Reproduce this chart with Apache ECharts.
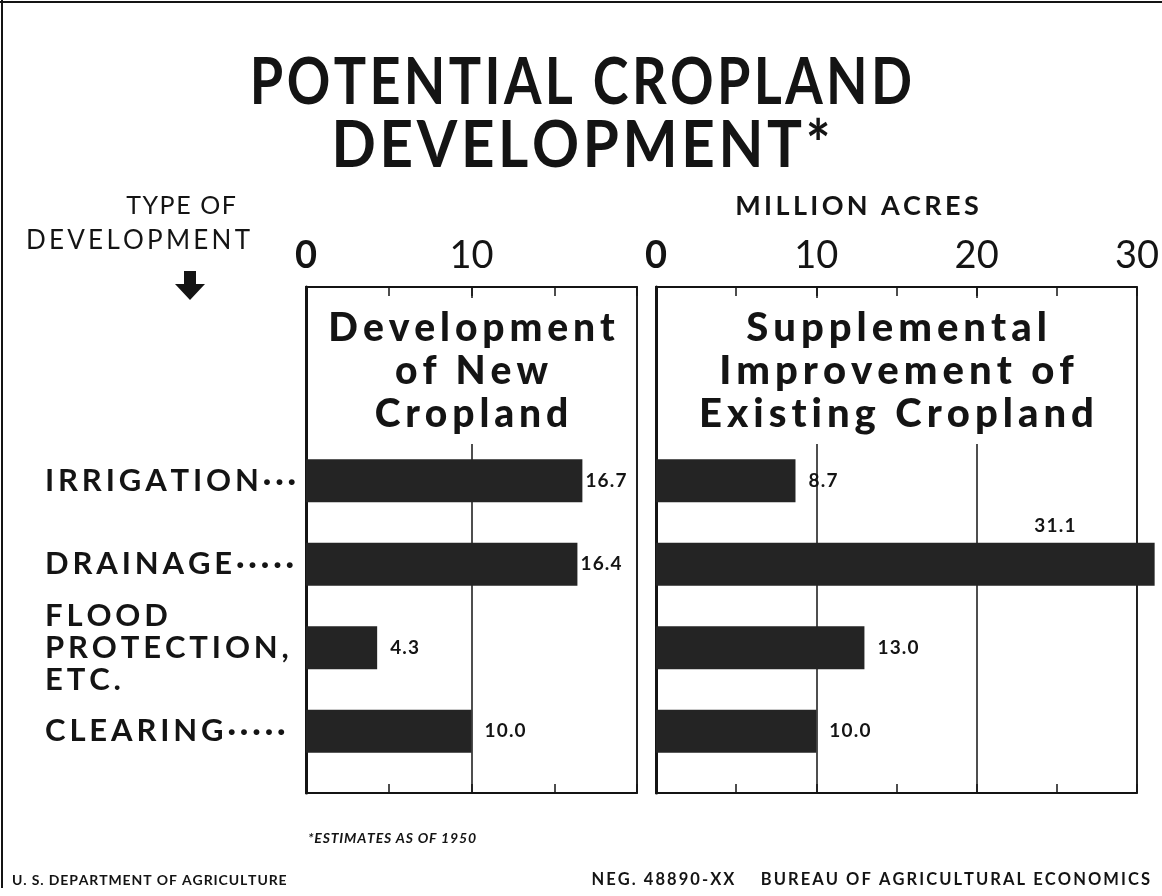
<!DOCTYPE html>
<html>
<head>
<meta charset="utf-8">
<script src="https://cdn.jsdelivr.net/npm/echarts@6/dist/echarts.min.js"></script>
<style>
  html, body { margin: 0; padding: 0; background: #fff; }
  #chart { width: 1162px; height: 896px; }
</style>
</head>
<body>
<div id="chart"></div>
<script>
// Types of development, top to bottom
const categories = ['IRRIGATION', 'DRAINAGE', 'FLOOD\nPROTECTION,\nETC.', 'CLEARING'];
const categoryLeaders = ['···', '·····', '', '·····'];

// Million acres, estimates as of 1950
const newCropland = [16.7, 16.4, 4.3, 10.0];
const supplementalImprovement = [8.7, 31.1, 13.0, 10.0];

// Scale labels printed above each panel
const newTickLabels = [0, 10];
const suppTickLabels = [0, 10, 20, 30];

const chart = echarts.init(document.getElementById('chart'));

const FONT = 'Lato, "DejaVu Sans", sans-serif';
const INK = '#141414';
const BAR = '#242424';
const THIN = '\u2009';
const HAIR = '\u200A';

// widen the letter spacing the way the lettering is set
const spaced = (s, gap) => s.split('\n').map(l => Array.from(l).join(gap)).join('\n');

// panel geometry
const L = { left: 306, width: 331, max: 20, headSize: 39 };
const R = { left: 656, width: 481, max: 30, headSize: 40 };
const FRAME_TOP = 287, FRAME_H = 506;
const BARS_TOP = 439, BARS_H = 334;

function frameGrid(p) {
  return { left: p.left, top: FRAME_TOP, width: p.width, height: FRAME_H,
           show: true, borderColor: INK, borderWidth: 1.5, backgroundColor: 'transparent' };
}
function barGrid(p) {
  return { left: p.left, top: BARS_TOP, width: p.width, height: BARS_H };
}

function scaleAxis(grid, p, position, labels) {
  return {
    type: 'value', gridIndex: grid, position: position, min: 0, max: p.max, interval: 10,
    axisLine: { show: true, onZero: false, lineStyle: { color: INK, width: 2 } },
    axisTick: { show: true, inside: true, length: 9, lineStyle: { color: INK, width: 1.5 } },
    minorTick: { show: true, splitNumber: 2, length: 9, lineStyle: { color: INK, width: 1.5 } },
    splitLine: { show: position === 'top', lineStyle: { color: INK, width: 1.5 } },
    axisLabel: labels ? {
      show: true, margin: 12, fontFamily: FONT, fontSize: 38, fontWeight: 'normal', color: INK,
      formatter: v => labels.includes(v) ? (v === 0 ? '{z|0}' : String(v)) : '',
      rich: { z: { fontFamily: FONT, fontSize: 38, fontWeight: 'bold', color: INK } }
    } : { show: false }
  };
}
function hiddenValueAxis(grid, p) {
  return { type: 'value', gridIndex: grid, min: 0, max: p.max, show: false, splitLine: { show: false } };
}

function valueLabel(v, max) {
  if (v > max) {
    return { position: ['80%', -17], align: 'center', verticalAlign: 'middle' };
  }
  return { position: 'right', distance: v > 0.75 * max ? 3 : 13 };
}

function barSeries(xi, yi, values, max) {
  return {
    type: 'bar', xAxisIndex: xi, yAxisIndex: yi, barWidth: 43, clip: false,
    itemStyle: { color: BAR },
    label: { show: true, fontFamily: FONT, fontWeight: 'bold', fontSize: 19, color: INK,
             formatter: p => spaced(p.value.toFixed(1), HAIR) },
    data: values.map(v => ({ value: v, label: valueLabel(v, max) }))
  };
}

// white panel headings sit over the scale lines
function heading(p, lines) {
  const cx = p.left + p.width / 2;
  const els = [{
    type: 'rect', z: 1, silent: true,
    shape: { x: p.left + 3, y: FRAME_TOP + 11, width: p.width - 5, height: 146 },
    style: { fill: '#fff' }
  }];
  lines.forEach((t, i) => els.push({
    type: 'text', z: 5, x: cx, y: 328 + i * 43,
    style: { text: spaced(t, THIN), fontFamily: FONT, fontSize: p.headSize, fontWeight: 900,
             fill: INK, align: 'center', verticalAlign: 'middle' }
  }));
  return els;
}

function titleLine(t, y, sx) {
  return { type: 'text', x: 581, y: y, scaleY: 1.2, scaleX: sx,
           style: { text: spaced(t, HAIR), fontFamily: FONT, fontSize: 54, fontWeight: 'bold',
                    fill: INK, align: 'center', verticalAlign: 'middle' } };
}

const option = {
  backgroundColor: '#fff',
  animation: false,
  grid: [frameGrid(L), barGrid(L), frameGrid(R), barGrid(R)],
  xAxis: [
    scaleAxis(0, L, 'top', newTickLabels),
    scaleAxis(0, L, 'bottom', null),
    hiddenValueAxis(1, L),
    scaleAxis(2, R, 'top', suppTickLabels),
    scaleAxis(2, R, 'bottom', null),
    hiddenValueAxis(3, R)
  ],
  yAxis: [
    { type: 'value', gridIndex: 0, min: 0, max: 1, axisLabel: { show: false }, axisTick: { show: false },
      splitLine: { show: false }, axisLine: { show: true, onZero: false, lineStyle: { color: INK, width: 3 } } },
    { type: 'category', gridIndex: 1, inverse: true, data: categories,
      axisLine: { show: false }, axisTick: { show: false },
      axisLabel: { show: true, align: 'left', margin: 261, fontFamily: FONT, fontSize: 31,
                   fontWeight: 'bold', color: INK, lineHeight: 32,
                   formatter: (v, i) => spaced(v + categoryLeaders[i], THIN) } },
    { type: 'value', gridIndex: 2, min: 0, max: 1, axisLabel: { show: false }, axisTick: { show: false },
      splitLine: { show: false }, axisLine: { show: true, onZero: false, lineStyle: { color: INK, width: 3 } } },
    { type: 'category', gridIndex: 3, inverse: true, data: categories,
      axisLine: { show: false }, axisTick: { show: false }, axisLabel: { show: false } }
  ],
  series: [
    barSeries(2, 1, newCropland, L.max),
    barSeries(5, 3, supplementalImprovement, R.max)
  ],
  graphic: [
    // sheet edges
    { type: 'line', shape: { x1: 0, y1: 2, x2: 1162, y2: 2 }, style: { stroke: INK, lineWidth: 2 } },
    { type: 'line', shape: { x1: 2, y1: 0, x2: 2, y2: 888 }, style: { stroke: INK, lineWidth: 2 } },
    // title
    titleLine('POTENTIAL CROPLAND', 83, 1),
    titleLine('DEVELOPMENT*', 146, 1.08),
    // stub heading
    { type: 'text', x: 181, y: 206, style: { text: spaced('TYPE OF', HAIR), fontFamily: FONT, fontSize: 25,
      fill: INK, align: 'center', verticalAlign: 'middle' } },
    { type: 'text', x: 138, y: 241, style: { text: spaced('DEVELOPMENT', THIN), fontFamily: FONT, fontSize: 26,
      fill: INK, align: 'center', verticalAlign: 'middle' } },
    { type: 'polygon', shape: { points: [[184, 271], [196, 271], [196, 284], [205, 284], [190, 300], [175, 284], [184, 284]] },
      style: { fill: INK } },
    // scale heading
    { type: 'text', x: 857, y: 206, style: { text: spaced('MILLION ACRES', THIN), fontFamily: FONT, fontSize: 27,
      fontWeight: 'bold', fill: INK, align: 'center', verticalAlign: 'middle' } },
    ...heading(L, ['Development', 'of New', 'Cropland']),
    ...heading(R, ['Supplemental', 'Improvement of', 'Existing Cropland']),
    // notes
    { type: 'text', x: 392, y: 838, style: { text: spaced('*ESTIMATES AS OF 1950', HAIR), fontFamily: FONT,
      fontSize: 14, fontWeight: 'bold', fontStyle: 'italic', fill: INK, align: 'center', verticalAlign: 'middle' } },
    { type: 'text', x: 12, y: 880, style: { text: spaced('U. S. DEPARTMENT OF AGRICULTURE', HAIR), fontFamily: FONT,
      fontSize: 14, fontWeight: 'bold', fill: INK, align: 'left', verticalAlign: 'middle' } },
    { type: 'text', x: 1150, y: 880, style: { text: spaced('NEG. 48890-XX    BUREAU OF AGRICULTURAL ECONOMICS', THIN),
      fontFamily: FONT, fontSize: 16.5, fontWeight: 'bold', fill: INK, align: 'right', verticalAlign: 'middle' } }
  ]
};

chart.setOption(option);
</script>
</body>
</html>
